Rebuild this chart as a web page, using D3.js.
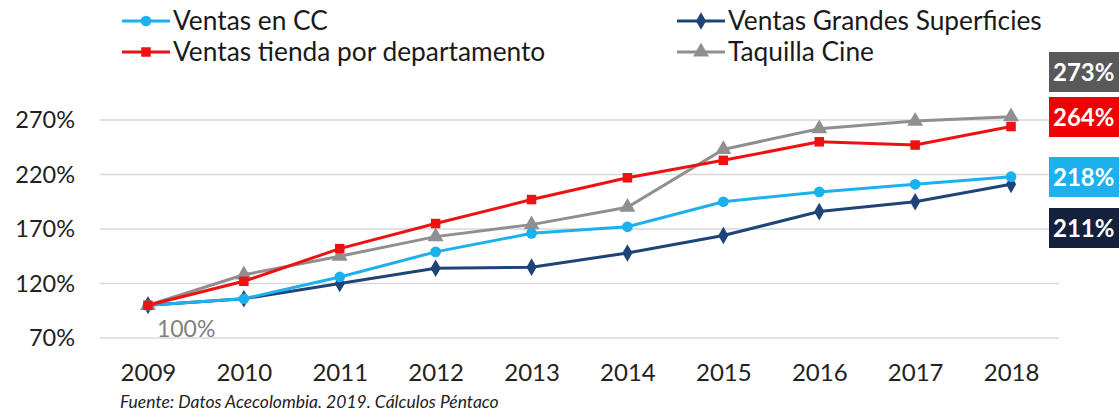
<!DOCTYPE html>
<html>
<head>
<meta charset="utf-8">
<script src="https://cdn.jsdelivr.net/npm/d3@7"></script>
<style>
  body { margin: 0; background: #fff; }
  svg text { font-family: Lato, "Open Sans", sans-serif; }
</style>
</head>
<body>
<div id="chart"></div>
<script>
// data
const years = ["2009", "2010", "2011", "2012", "2013", "2014", "2015", "2016", "2017", "2018"];
const ventasCC = [100, 106, 126, 149, 166, 172, 195, 204, 211, 218];
const ventasGS = [100, 106, 120, 134, 135, 148, 164, 186, 195, 211];
const ventasTienda = [100, 122, 152, 175, 197, 217, 233, 250, 247, 264];
const taquilla = [100, 128, 145, 163, 174, 190, 243, 262, 269, 273];
const yTicks = [70, 120, 170, 220, 270];
const endLabels = ["273%", "264%", "218%", "211%"];

const width = 1119, height = 416;

const series = [
  { name: "Ventas en CC", values: ventasCC, color: "#1cb0ec", mark: "circle" },
  { name: "Ventas tienda por departamento", values: ventasTienda, color: "#ee1111", mark: "square" },
  { name: "Ventas Grandes Superficies", values: ventasGS, color: "#1f4478", mark: "diamond" },
  { name: "Taquilla Cine", values: taquilla, color: "#8f8f8f", mark: "triangle" }
];

const symbols = {
  circle: d3.symbolCircle,
  square: d3.symbolSquare,
  diamond: d3.symbolDiamond,
  triangle: d3.symbolTriangle
};

const svg = d3.select("#chart")
  .append("svg")
  .attr("width", width)
  .attr("height", height);

const x = d3.scalePoint()
  .domain(years)
  .range([100, 1059])
  .padding(0.5);

const y = d3.scaleLinear()
  .domain([70, 270])
  .range([338, 120]);

// gridlines
svg.append("g")
  .selectAll("line")
  .data(yTicks)
  .enter()
  .append("line")
  .attr("x1", 100)
  .attr("x2", 1059)
  .attr("y1", d => y(d))
  .attr("y2", d => y(d))
  .attr("stroke", "#d9d9d9")
  .attr("stroke-width", 1.5);

// y axis
const yAxis = svg.append("g")
  .attr("transform", "translate(75,0)")
  .call(d3.axisLeft(y).tickValues(yTicks).tickFormat(d => d + "%").tickSize(0).tickPadding(0));
yAxis.select(".domain").remove();
yAxis.selectAll("text")
  .attr("font-size", 23.5)
  .attr("fill", "#222")
  .style("font-family", "Lato, 'Open Sans', sans-serif");

// x axis
const xAxis = svg.append("g")
  .attr("transform", "translate(0,364)")
  .call(d3.axisBottom(x).tickSize(0).tickPadding(0));
xAxis.select(".domain").remove();
xAxis.selectAll("text")
  .attr("font-size", 24)
  .attr("fill", "#222")
  .style("font-family", "Lato, 'Open Sans', sans-serif");

const line = d3.line()
  .x((d, i) => x(years[i]))
  .y(d => y(d));

// draw order: gray, navy, blue, red so red/gray stay on top like the original
const drawOrder = [series[3], series[2], series[0], series[1]];

drawOrder.forEach(s => {
  const g = svg.append("g");
  g.append("path")
    .datum(s.values)
    .attr("d", line)
    .attr("fill", "none")
    .attr("stroke", s.color)
    .attr("stroke-width", 3);
  g.selectAll("path.mk")
    .data(s.values)
    .enter()
    .append("path")
    .attr("class", "mk")
    .attr("d", d3.symbol().type(symbols[s.mark]).size(s.mark === "triangle" ? 110 : 90))
    .attr("transform", (d, i) => "translate(" + x(years[i]) + "," + y(d) + ")")
    .attr("fill", s.color);
});

// 100% label
svg.append("text")
  .attr("x", x(years[0]) + 9)
  .attr("y", 337)
  .attr("font-size", 23)
  .attr("fill", "#808080")
  .text("100%");

// legend
const legend = [
  { s: series[0], lx: 122, ly: 21 },
  { s: series[1], lx: 122, ly: 52 },
  { s: series[2], lx: 677, ly: 21 },
  { s: series[3], lx: 677, ly: 52 }
];
legend.forEach(l => {
  const g = svg.append("g");
  g.append("line")
    .attr("x1", l.lx).attr("x2", l.lx + 48)
    .attr("y1", l.ly).attr("y2", l.ly)
    .attr("stroke", l.s.color)
    .attr("stroke-width", 3);
  g.append("path")
    .attr("d", d3.symbol().type(symbols[l.s.mark]).size(l.s.mark === "triangle" ? 110 : 90))
    .attr("transform", "translate(" + (l.lx + 24) + "," + l.ly + ")")
    .attr("fill", l.s.color);
  g.append("text")
    .attr("x", l.lx + 51)
    .attr("y", l.ly)
    .attr("dy", "0.35em")
    .attr("font-size", 26.3)
    .attr("fill", "#1a1a1a")
    .text(l.s.name);
});

// end value boxes
const boxColors = ["#595959", "#f00000", "#1cb0ec", "#14213d"];
const boxTops = [52, 97, 157, 208];
endLabels.forEach((t, i) => {
  svg.append("rect")
    .attr("x", 1049)
    .attr("y", boxTops[i])
    .attr("width", 90)
    .attr("height", 40)
    .attr("fill", boxColors[i]);
  svg.append("text")
    .attr("x", 1053)
    .attr("y", boxTops[i] + 20)
    .attr("dy", "0.36em")
    .attr("font-size", 24)
    .attr("font-weight", "bold")
    .attr("fill", "#fff")
    .text(t);
});

// source
svg.append("text")
  .attr("x", 120)
  .attr("y", 408)
  .attr("font-size", 17.5)
  .attr("font-style", "italic")
  .attr("fill", "#222")
  .text("Fuente: Datos Acecolombia. 2019. Cálculos Péntaco");
</script>
</body>
</html>
